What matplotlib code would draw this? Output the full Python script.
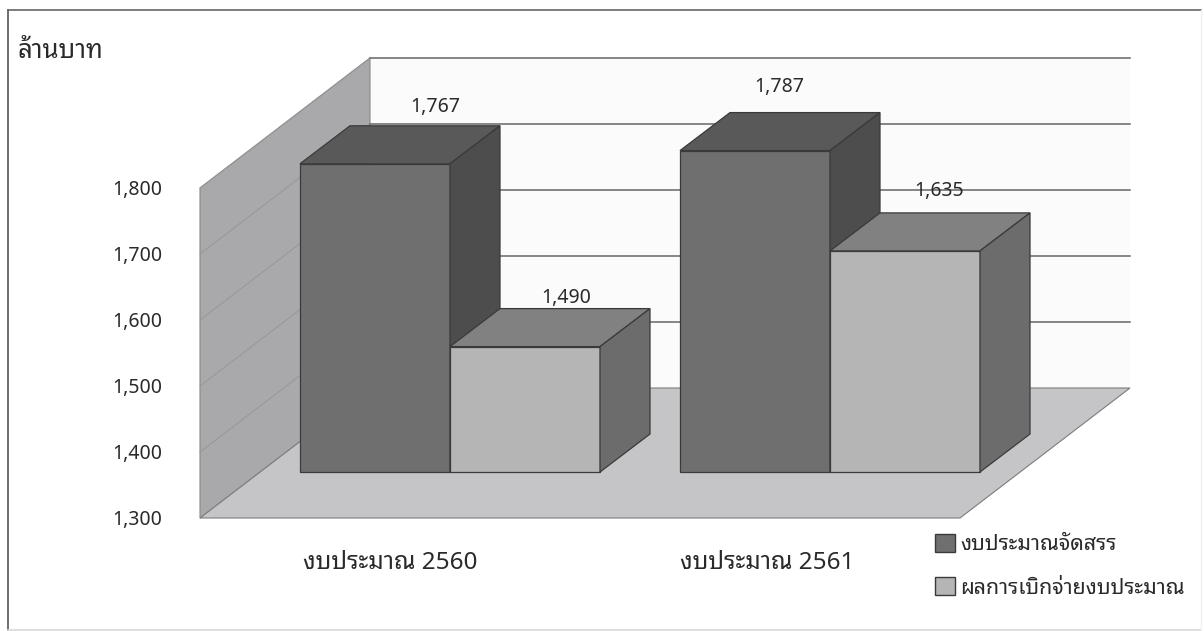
import matplotlib
matplotlib.use("Agg")
import matplotlib.pyplot as plt
from matplotlib.lines import Line2D
from matplotlib.patches import Polygon, Patch

plt.rcParams['font.family'] = ['Noto Sans Thai Looped', 'Loma', 'DejaVu Sans']

## Data
categories   = ["งบประมาณ 2560", "งบประมาณ 2561"]
series_names = ["งบประมาณจัดสรร", "ผลการเบิกจ่ายงบประมาณ"]
allocated    = [1767, 1787]
disbursed    = [1490, 1635]
y_ticks      = [1300, 1400, 1500, 1600, 1700, 1800]
y_tick_text  = ["1,300", "1,400", "1,500", "1,600", "1,700", "1,800"]
y_unit       = "ล้านบาท"

W, H = 1204, 631
PX_PER_UNIT = 0.66      # vertical pixels for one million baht
TEXT = '#2a2a2a'

def up( px ):
    # a vertical distance in pixels, in value units
    return px / PX_PER_UNIT

def box( ax, x, w, base, top, depth_x, depth_y, front, roof, side ):
    dy = up( depth_y )
    faces = [ ( [ (x, base), (x + w, base), (x + w, top), (x, top) ], front ),
              ( [ (x, top), (x + w, top), (x + w + depth_x, top + dy), (x + depth_x, top + dy) ], roof ),
              ( [ (x + w, base), (x + w + depth_x, base + dy), (x + w + depth_x, top + dy), (x + w, top) ], side ) ]
    for pts, colour in faces:
        ax.add_patch( Polygon( pts, closed = True, facecolor = colour, edgecolor = '#3a3a3a',
                               linewidth = 0.9, clip_on = False, zorder = 5 ) )

def frame_line( fig, xs, ys, colour, width ):
    fig.add_artist( Line2D( [ x / W for x in xs ], [ 1 - y / H for y in ys ], color = colour,
                            linewidth = width, transform = fig.transFigure ) )

fig = plt.figure( figsize = ( W / 100, H / 100 ), dpi = 100, facecolor = 'white' )
ax  = fig.add_axes( [ 200 / W, 1 - 518 / H, 930 / W, 330 / H ] )
ax.set_xlim( 200, 1130 )
ax.set_ylim( y_ticks[0], y_ticks[-1] )
ax.patch.set_visible( False )
for s in ax.spines.values():
    s.set_visible( False )

## Outer frame, the scan fades it to the right and at the bottom
frame_line( fig, [ 7.5, 7.5 ], [ 10, 630 ], '#555555', 1.2 )
frame_line( fig, [ 7.5, 1201 ], [ 10, 10 ], '#666666', 1.2 )
frame_line( fig, [ 7.5, 1201 ], [ 630, 630 ], '#d8d8d8', 1.2 )
frame_line( fig, [ 1201, 1201 ], [ 10, 630 ], '#f0f0f0', 1.0 )

## Walls and floor
wall_dx, wall_dy = 170, up( 130 )
right = 960
low, high = y_ticks[0], y_ticks[-1]

ax.add_patch( Polygon( [ (200 + wall_dx, low + wall_dy), (right + wall_dx, low + wall_dy),
                         (right + wall_dx, high + wall_dy), (200 + wall_dx, high + wall_dy) ],
                       facecolor = '#fbfbfb', edgecolor = 'none', clip_on = False, zorder = 1 ) )
ax.add_patch( Polygon( [ (200, low), (200 + wall_dx, low + wall_dy), (200 + wall_dx, high + wall_dy), (200, high) ],
                       facecolor = '#a9a9ab', edgecolor = '#8a8a8a', linewidth = 0.8, clip_on = False, zorder = 2 ) )
ax.add_patch( Polygon( [ (200, low), (right, low), (right + wall_dx, low + wall_dy), (200 + wall_dx, low + wall_dy) ],
                       facecolor = '#c5c5c8', edgecolor = '#7c7c7c', linewidth = 0.8, clip_on = False, zorder = 2 ) )

for v in y_ticks[1:]:
    ax.plot( [ 200, 200 + wall_dx ], [ v, v + wall_dy ], color = '#979799', linewidth = 0.7, clip_on = False, zorder = 3 )
    ax.plot( [ 200 + wall_dx, right + wall_dx ], [ v + wall_dy, v + wall_dy ], color = '#666666',
             linewidth = 1.1, clip_on = False, zorder = 3 )

## Bars
bar_base  = low + up( 46 )
bar_w     = 150
group_x   = [ 300, 680 ]
label_x   = [ [ 435, 779 ], [ 566, 939 ] ]
label_up  = [ [ 57, 64 ], [ 49, 60 ] ]      # pixels above the front top edge

for i in range( len( categories ) ):
    box( ax, group_x[i], bar_w, bar_base, bar_base + ( allocated[i] - low ), 50, 38, '#6f6f6f', '#595959', '#4d4d4d' )
    box( ax, group_x[i] + bar_w, bar_w, bar_base, bar_base + ( disbursed[i] - low ), 50, 38, '#b5b5b5', '#818181', '#6c6c6c' )

for j, values in enumerate( [ allocated, disbursed ] ):
    for i, v in enumerate( values ):
        ax.text( label_x[j][i], bar_base + ( v - low ) + up( label_up[j][i] ), format( v, ',' ),
                 ha = 'center', va = 'center', fontsize = 14, color = TEXT, clip_on = False, zorder = 6 )

## Axes text
ax.set_yticks( y_ticks, y_tick_text )
ax.set_xticks( [ 390, 767 ], categories )
ax.tick_params( axis = 'y', length = 0, pad = 27, labelsize = 14, labelcolor = TEXT )
ax.tick_params( axis = 'x', length = 0, pad = 23.5, labelsize = 17.5, labelcolor = TEXT )

fig.text( 17 / W, 1 - 51 / H, y_unit, fontsize = 18.5, color = TEXT, ha = 'left', va = 'center' )

handles = [ Patch( facecolor = '#6f6f6f', edgecolor = '#3a3a3a', linewidth = 1.0 ),
            Patch( facecolor = '#b5b5b5', edgecolor = '#3a3a3a', linewidth = 1.0 ) ]
fig.legend( handles, series_names, loc = 'upper left', bbox_to_anchor = ( 916 / W, 1 - 514.5 / H ),
            frameon = False, fontsize = 15.4, handlelength = 0.92, handleheight = 0.92, handletextpad = 0.25,
            labelspacing = 1.04, borderpad = 0.4, labelcolor = TEXT )

fig.savefig( "out.png", dpi = 100 )
